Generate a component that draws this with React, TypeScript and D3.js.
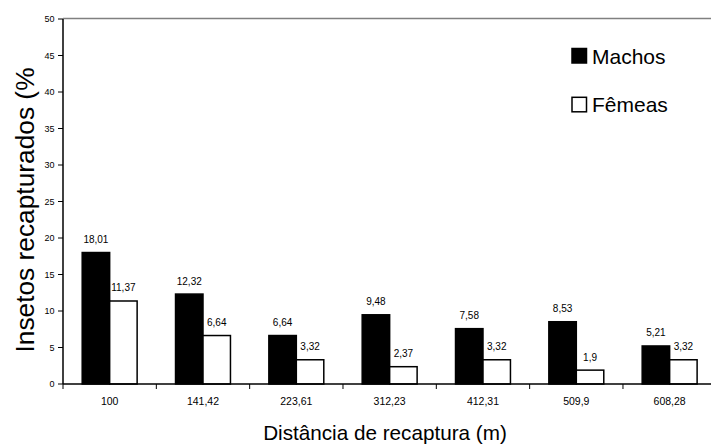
import React, { useEffect, useRef } from "react";
import * as d3 from "d3";

// Recapture distance categories (m) and recaptured insects (%) by sex
const distances = ["100", "141,42", "223,61", "312,23", "412,31", "509,9", "608,28"];
const machos = [18.01, 12.32, 6.64, 9.48, 7.58, 8.53, 5.21];
const femeas = [11.37, 6.64, 3.32, 2.37, 3.32, 1.9, 3.32];
const seriesNames = ["Machos", "Fêmeas"];
const seriesFill = ["#000000", "#ffffff"];
const yTicks = [0, 5, 10, 15, 20, 25, 30, 35, 40, 45, 50];

const W = 711;
const H = 446;
const FONT = "'Liberation Sans', Arial, sans-serif";

const fmt = (v: number) => String(v).replace(".", ",");

export default function App() {
  const ref = useRef<SVGSVGElement | null>(null);

  useEffect(() => {
    const svg = d3.select(ref.current);
    svg.selectAll("*").remove();

    const left = 63;
    const top = 19;
    const bottom = 384;
    const bandW = 93.33;
    const right = left + bandW * distances.length;

    const x0 = d3.scaleBand<string>().domain(distances).range([left, right]).padding(0);
    const x1 = d3
      .scaleBand<string>()
      .domain(seriesNames)
      .range([19.2, bandW - 19.2])
      .padding(0);
    const y = d3.scaleLinear().domain([0, 50]).range([bottom, top]);

    // plot area top border
    svg
      .append("line")
      .attr("x1", left)
      .attr("x2", right)
      .attr("y1", top - 0.5)
      .attr("y2", top - 0.5)
      .attr("stroke", "#808080")
      .attr("stroke-width", 1.5);

    // bars
    const data = distances.map((d, i) => ({ d, vals: [machos[i], femeas[i]] }));
    const g = svg
      .append("g")
      .selectAll("g")
      .data(data)
      .join("g")
      .attr("transform", (r) => `translate(${x0(r.d)},0)`);

    seriesNames.forEach((s, si) => {
      g.append("rect")
        .attr("x", x1(s)!)
        .attr("width", x1.bandwidth())
        .attr("y", (r) => y(r.vals[si]))
        .attr("height", (r) => bottom - y(r.vals[si]))
        .attr("fill", seriesFill[si])
        .attr("stroke", "#000")
        .attr("stroke-width", 1.5);

      g.append("text")
        .attr("x", x1(s)! + x1.bandwidth() / 2)
        .attr("y", (r) => y(r.vals[si]) - 9.5)
        .attr("text-anchor", "middle")
        .attr("font-family", FONT)
        .attr("font-size", 10)
        .attr("fill", "#000")
        .text((r) => fmt(r.vals[si]));
    });

    // y axis
    const yAxis = svg.append("g");
    yAxis
      .append("line")
      .attr("x1", left)
      .attr("x2", left)
      .attr("y1", top)
      .attr("y2", bottom)
      .attr("stroke", "#000")
      .attr("stroke-width", 1.5);
    yTicks.forEach((t) => {
      yAxis
        .append("line")
        .attr("x1", left - 5)
        .attr("x2", left)
        .attr("y1", y(t))
        .attr("y2", y(t))
        .attr("stroke", "#000")
        .attr("stroke-width", 1);
      yAxis
        .append("text")
        .attr("x", left - 8.5)
        .attr("y", y(t) + 3.3)
        .attr("text-anchor", "end")
        .attr("font-family", FONT)
        .attr("font-size", 9)
        .attr("fill", "#000")
        .text(t);
    });

    // x axis
    const xAxis = svg.append("g");
    xAxis
      .append("line")
      .attr("x1", left)
      .attr("x2", right)
      .attr("y1", bottom)
      .attr("y2", bottom)
      .attr("stroke", "#000")
      .attr("stroke-width", 1.5);
    distances.forEach((d) => {
      xAxis
        .append("line")
        .attr("x1", x0(d)!)
        .attr("x2", x0(d)!)
        .attr("y1", bottom)
        .attr("y2", bottom + 5)
        .attr("stroke", "#000")
        .attr("stroke-width", 1);
      xAxis
        .append("text")
        .attr("x", x0(d)! + x0.bandwidth() / 2)
        .attr("y", 405)
        .attr("text-anchor", "middle")
        .attr("font-family", FONT)
        .attr("font-size", 10.5)
        .attr("fill", "#000")
        .text(d);
    });

    // axis titles
    svg
      .append("text")
      .attr("x", 385)
      .attr("y", 440)
      .attr("text-anchor", "middle")
      .attr("font-family", FONT)
      .attr("font-size", 20.7)
      .attr("fill", "#000")
      .text("Distância de recaptura (m)");

    svg
      .append("text")
      .attr("transform", `translate(34,210) rotate(-90)`)
      .attr("text-anchor", "middle")
      .attr("font-family", FONT)
      .attr("font-size", 26.3)
      .attr("fill", "#000")
      .text("Insetos recapturados (%");

    // legend
    const legendY = [63.5, 112.3];
    seriesNames.forEach((s, i) => {
      svg
        .append("rect")
        .attr("x", 572)
        .attr("y", legendY[i] - 15)
        .attr("width", 14.5)
        .attr("height", 14.5)
        .attr("fill", seriesFill[i])
        .attr("stroke", "#000")
        .attr("stroke-width", 1.5);
      svg
        .append("text")
        .attr("x", 592)
        .attr("y", legendY[i])
        .attr("font-family", FONT)
        .attr("font-size", 21)
        .attr("fill", "#000")
        .text(s);
    });
  }, []);

  return (
    <svg
      ref={ref}
      width={W}
      height={H}
      style={{ position: "absolute", left: 0, top: 0, background: "#fff", overflow: "hidden" }}
    />
  );
}
